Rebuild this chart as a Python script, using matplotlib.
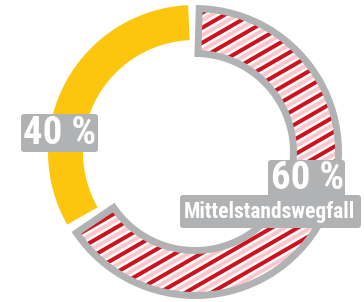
import numpy as np
import matplotlib.pyplot as plt
from matplotlib import font_manager
from matplotlib.patches import Wedge, FancyBboxPatch

# Werte (Anteile wie im Bild gezeichnet) und Beschriftungen
segmente = ["Mittelstandswegfall", "Rest"]
anteile = [66.5, 33.5]
prozent_labels = ["60 %", "40 %"]

GELB = "#FDC60E"
GRAU = "#B1B2B4"
ROT = "#D0101D"
ROSA = "#F8C8CC"


# schmale, fette Schrift suchen (falls vorhanden)
def gewicht(w):
    if isinstance(w, str):
        return 700 if "bold" in w or "heavy" in w or "black" in w else 400
    return w


def schmal_fett():
    bevorzugt = ["Liberation Sans Narrow", "Roboto Condensed",
                 "DejaVu Sans Condensed", "Open Sans Condensed", "DejaVu Sans"]
    treffer = []
    for f in font_manager.fontManager.ttflist:
        schmal = ("Narrow" in f.name or "Condensed" in f.name
                  or "condensed" in str(f.stretch) or "Condensed" in f.fname)
        if schmal and gewicht(f.weight) >= 600 and f.style == "normal":
            rang = bevorzugt.index(f.name) if f.name in bevorzugt else 99
            treffer.append((rang, f.fname))
    if treffer:
        treffer.sort()
        return font_manager.FontProperties(fname=treffer[0][1]), True
    return font_manager.FontProperties(family="Roboto", weight="bold"), False


schrift, ist_schmal = schmal_fett()

fig = plt.figure(figsize=(3.64, 3.02), dpi=100)
ax = fig.add_axes([0, 0, 1, 1])
ax.set_xlim(0, 364)
ax.set_ylim(0, 302)
ax.axis("off")

mitte = (195, 150)
r_aussen = 147

# Winkel aus den Anteilen (Start oben, im Uhrzeigersinn)
grenze = 90 - 360 * anteile[0] / 100  # Übergang unten links
w_hatch = (grenze + 2.0, 90)
w_gelb = (90 + 2.7, grenze + 360 - 1.0)

# gelbes Segment
ax.add_patch(Wedge(mitte, r_aussen, w_gelb[0], w_gelb[1], width=35,
                   facecolor=GELB, edgecolor="none"))

# schraffiertes Segment mit grauem Rand
rand = 3.5
r_in = 95
kw = dict(width=(r_aussen - rand) - (r_in + rand))
hintergrund = Wedge(mitte, r_aussen - rand, w_hatch[0] + 1.7, w_hatch[1] - 1.7,
                    facecolor="white", edgecolor="none", **kw)
ax.add_patch(hintergrund)

richtung = np.array([np.cos(np.radians(30)), np.sin(np.radians(30))])
normale = np.array([-richtung[1], richtung[0]])
t = np.array([-260, 260])
for k in range(-30, 31):
    for off, farbe in [(0, ROT), (6.5, ROSA)]:
        c = k * 13 + off
        p = np.array(mitte) + c * normale
        xs = p[0] + t * richtung[0]
        ys = p[1] + t * richtung[1]
        ln, = ax.plot(xs, ys, color=farbe, lw=2.9, solid_capstyle="butt")
        ln.set_clip_path(hintergrund)

ax.add_patch(Wedge(mitte, r_aussen - rand, w_hatch[0] + 1.7, w_hatch[1] - 1.7,
                   facecolor="none", edgecolor=GRAU, linewidth=5.0,
                   joinstyle="miter", zorder=3, **kw))


# Beschriftungsboxen
def box(x0, y0, x1, y1):
    ax.add_patch(FancyBboxPatch((x0, y0), x1 - x0, y1 - y0,
                                boxstyle="round,pad=0,rounding_size=3",
                                facecolor=GRAU, edgecolor="none", zorder=4))


box(21, 150, 98, 188)
box(268, 105, 345, 142)
box(180, 74, 361, 107)

gross = 28 if ist_schmal else 22
klein = 15.5 if ist_schmal else 12.5

ax.text(59.5, 168.5, prozent_labels[1], color="white", fontproperties=schrift,
        fontsize=gross, ha="center", va="center", zorder=5)
ax.text(307.5, 123.5, prozent_labels[0], color="white", fontproperties=schrift,
        fontsize=gross, ha="center", va="center", zorder=5)
ax.text(269.5, 84, segmente[0], color="white", fontproperties=schrift,
        fontsize=klein, ha="center", va="baseline", zorder=5)

fig.savefig("out.png", dpi=100)
